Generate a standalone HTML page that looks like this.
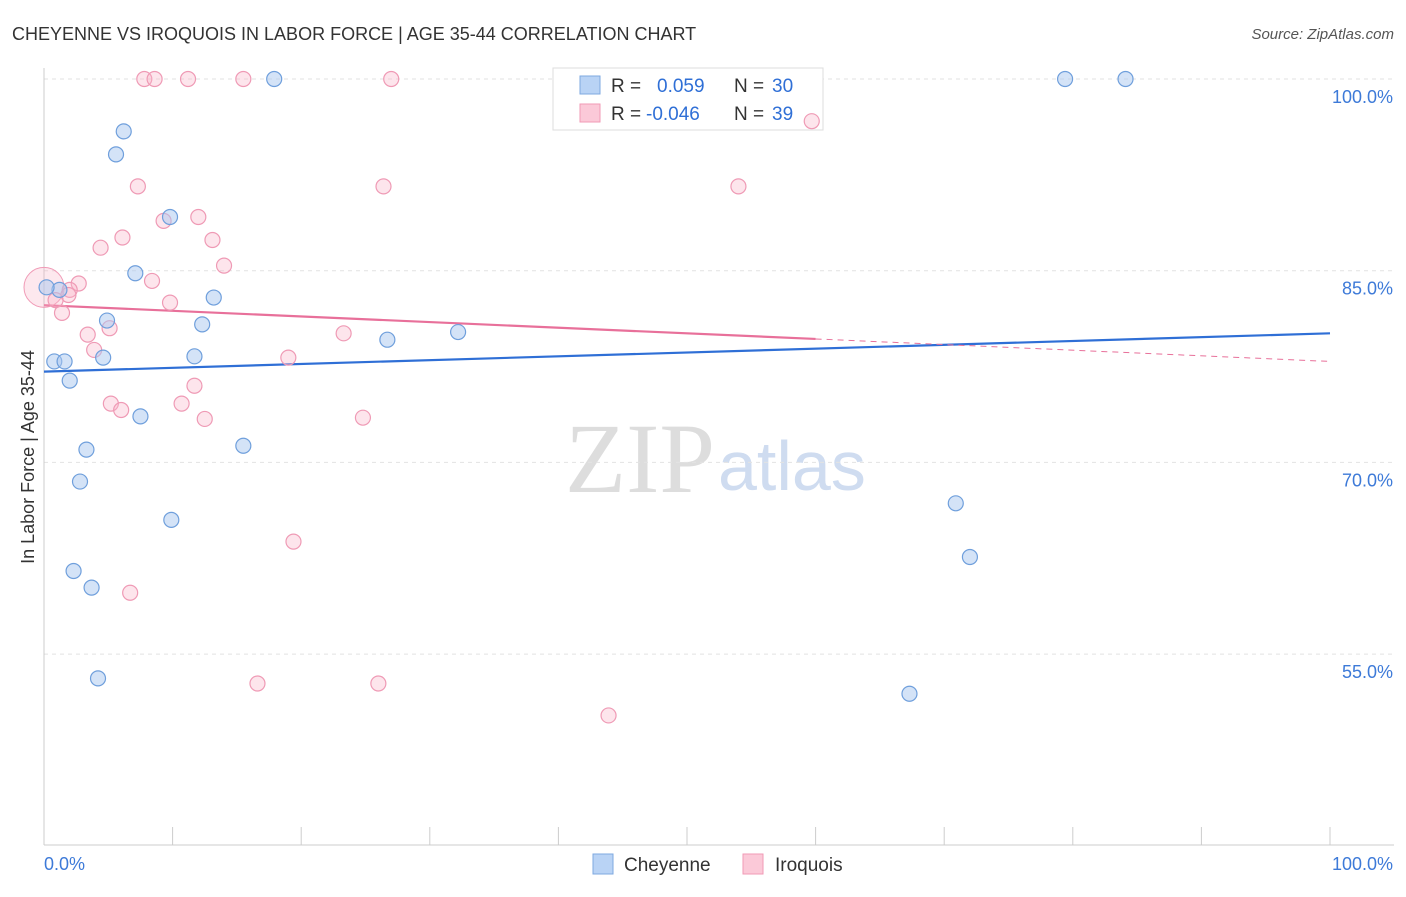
<!DOCTYPE html>
<html><head><meta charset="utf-8"><style>
body{margin:0;background:#fff;font-family:"Liberation Sans",sans-serif;}
</style></head><body>
<svg id="chart" width="1406" height="892" font-family="Liberation Sans, sans-serif">
<text x="12" y="40" font-size="18" fill="#333">CHEYENNE VS IROQUOIS IN LABOR FORCE | AGE 35-44 CORRELATION CHART</text>
<text x="1394" y="39" font-size="15" fill="#555" text-anchor="end" font-style="italic">Source: ZipAtlas.com</text>
<text x="715" y="492" font-size="100" fill="#ddd" text-anchor="end" style="font-family:'Liberation Serif',serif">ZIP</text>
<text x="718" y="490" font-size="70" fill="#cfdcf0">atlas</text>
<text transform="translate(34,457) rotate(-90)" font-size="18" fill="#333" text-anchor="middle">In Labor Force | Age 35-44</text>
<g id="grid"></g><g id="axes"></g><g id="trends"></g>
<g>
<rect x="553" y="68" width="270" height="62" fill="#fff" stroke="#ddd"/>
<rect x="580" y="76" width="20" height="18" fill="#b9d3f5" stroke="#7ea8e0"/>
<rect x="580" y="104" width="20" height="18" fill="#fbc9d8" stroke="#f09ab6"/>
<text x="611" y="92" font-size="19" fill="#333">R = </text><text x="657" y="92" font-size="19" fill="#2f6fd6">0.059</text>
<text x="734" y="92" font-size="19" fill="#333">N = </text><text x="772" y="92" font-size="19" fill="#2f6fd6">30</text>
<text x="611" y="120" font-size="19" fill="#333">R = </text><text x="646" y="120" font-size="19" fill="#2f6fd6">-0.046</text>
<text x="734" y="120" font-size="19" fill="#333">N = </text><text x="772" y="120" font-size="19" fill="#2f6fd6">39</text>
</g>
<g id="points"></g>
<g>
<rect x="593" y="854" width="20" height="20" fill="#b9d3f5" stroke="#7ea8e0"/>
<text x="624" y="871" font-size="19" fill="#333">Cheyenne</text>
<rect x="743" y="854" width="20" height="20" fill="#fbc9d8" stroke="#f09ab6"/>
<text x="775" y="871" font-size="19" fill="#333">Iroquois</text>
</g>
</svg>
<script>
const yTicks=[100,85,70,55];
const yTickLabels=["100.0%","85.0%","70.0%","55.0%"];
const blueX=[6.2,5.6,9.8,7.1,13.2,1.2,0.2,4.9,12.3,0.8,1.6,4.6,11.7,2.0,7.5,3.3,15.5,2.8,9.9,2.3,3.7,4.2,17.9,79.4,84.1,26.7,32.2,70.9,72.0,67.3];
const blueY=[95.9,94.1,89.2,84.8,82.9,83.5,83.7,81.1,80.8,77.9,77.9,78.2,78.3,76.4,73.6,71.0,71.3,68.5,65.5,61.5,60.2,53.1,100,100,100,79.6,80.2,66.8,62.6,51.9];
const pinkX=[7.8,8.6,11.2,15.5,27.0,59.7,7.3,26.4,54.0,9.3,12.0,6.1,4.4,13.1,14.0,8.4,2.7,2.0,1.9,0.9,1.4,9.8,23.3,5.1,3.4,3.9,19.0,11.7,5.2,6.0,10.7,12.5,24.8,19.4,6.7,16.6,26.0,43.9];
const pinkY=[100,100,100,100,100,96.7,91.6,91.6,91.6,88.9,89.2,87.6,86.8,87.4,85.4,84.2,84.0,83.5,83.1,82.7,81.7,82.5,80.1,80.5,80.0,78.8,78.2,76.0,74.6,74.1,74.6,73.4,73.5,63.8,59.8,52.7,52.7,50.2];
const blueTrend=[77.1,80.1];
const pinkTrend=[82.3,77.9];
const pinkSolidEnd=60;
const NS="http://www.w3.org/2000/svg";
const X=v=>44+v*12.86, Y=v=>79+(100-v)*12.78;
function mk(tag,attrs,parent){const e=document.createElementNS(NS,tag);for(const k in attrs)e.setAttribute(k,attrs[k]);document.getElementById(parent).appendChild(e);return e;}
yTicks.forEach((t,i)=>{
 const l=mk('line',{x1:44,x2:1394,y1:Y(t),y2:Y(t),stroke:'#e2e2e2','stroke-dasharray':'4,4'},'grid');
 
 
 const tx=mk('text',{x:1393,y:Y(t)+24,'font-size':18,fill:'#3d7ad8','text-anchor':'end'},'grid');
 tx.textContent=yTickLabels[i];
 
 
});
mk('line',{x1:44,x2:44,y1:68,y2:845,stroke:'#ccc'},'axes');
mk('line',{x1:44,x2:1394,y1:845,y2:845,stroke:'#ccc'},'axes');
for(let i=0;i<=10;i++){mk('line',{x1:X(i*10),x2:X(i*10),y1:827,y2:845,stroke:'#ccc'},'axes');}
let t0=mk('text',{x:44,y:870,'font-size':18,fill:'#3d7ad8'},'axes');t0.textContent='0.0%';


let t1=mk('text',{x:1393,y:870,'font-size':18,fill:'#3d7ad8','text-anchor':'end'},'axes');t1.textContent='100.0%';


const pAt=x=>pinkTrend[0]+(pinkTrend[1]-pinkTrend[0])*x/100;
let bl=mk('line',{x1:X(0),y1:Y(blueTrend[0]),x2:X(100),y2:Y(blueTrend[1]),stroke:'#2f6fd6','stroke-width':2.2},'trends');


let pl=mk('line',{x1:X(0),y1:Y(pinkTrend[0]),x2:X(pinkSolidEnd),y2:Y(pAt(pinkSolidEnd)),stroke:'#e8709a','stroke-width':2.2},'trends');


let pd=mk('line',{x1:X(pinkSolidEnd),y1:Y(pAt(pinkSolidEnd)),x2:X(100),y2:Y(pinkTrend[1]),stroke:'#e8709a','stroke-width':1,'stroke-dasharray':'6,5'},'trends');


let big=mk('circle',{cx:X(0),cy:Y(83.7),r:20,fill:'rgba(248,180,200,0.3)',stroke:'#f09ab6'},'points');


pinkX.forEach((x,i)=>{const c=mk('circle',{cx:X(x),cy:Y(pinkY[i]),r:7.5,fill:'rgba(248,180,200,0.35)',stroke:'#ef9ab5','stroke-width':1.2},'points');
 
 });
blueX.forEach((x,i)=>{const c=mk('circle',{cx:X(x),cy:Y(blueY[i]),r:7.5,fill:'rgba(170,200,240,0.5)',stroke:'#6f9fdc','stroke-width':1.2},'points');
 
 });
</script>
</body></html>
